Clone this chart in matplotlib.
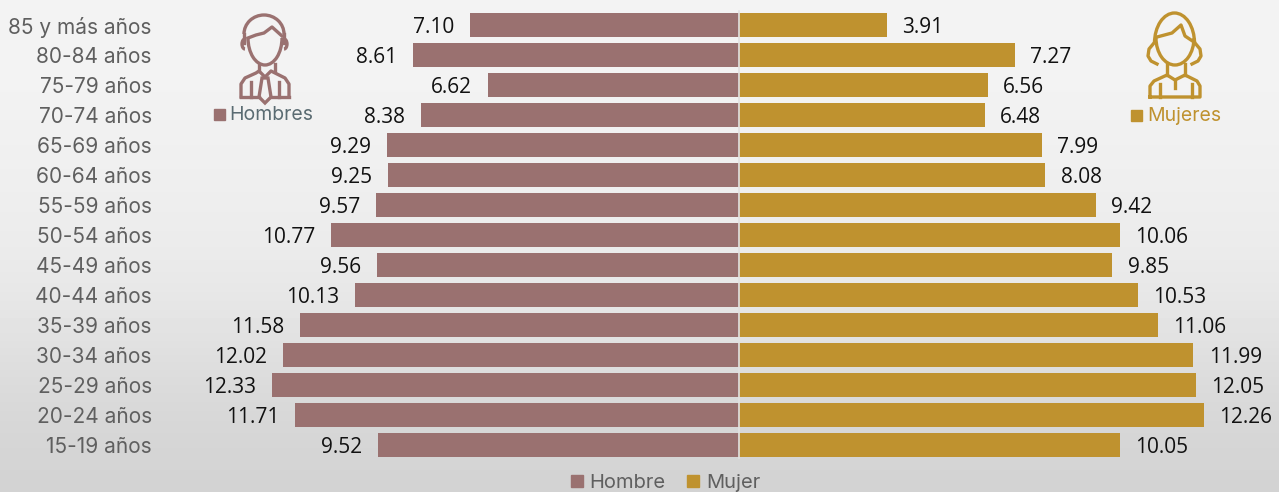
#!/usr/bin/env python3
"""Pirámide de población por grupo de edad, Hombre / Mujer."""
import numpy as np
import matplotlib

matplotlib.use("Agg")
import matplotlib.pyplot as plt  # noqa: E402
from matplotlib.lines import Line2D  # noqa: E402
from matplotlib.patches import Arc, Polygon, Rectangle  # noqa: E402

edades = ["85 y más años", "80-84 años", "75-79 años", "70-74 años", "65-69 años",
          "60-64 años", "55-59 años", "50-54 años", "45-49 años", "40-44 años",
          "35-39 años", "30-34 años", "25-29 años", "20-24 años", "15-19 años"]
hombres = [7.10, 8.61, 6.62, 8.38, 9.29, 9.25, 9.57, 10.77, 9.56, 10.13,
           11.58, 12.02, 12.33, 11.71, 9.52]
mujeres = [3.91, 7.27, 6.56, 6.48, 7.99, 8.08, 9.42, 10.06, 9.85, 10.53,
           11.06, 11.99, 12.05, 12.26, 10.05]

W, H = 1279, 492
C_H = "#9a7170"
C_M = "#bf922f"
C_TICK = "#5f5f5f"
C_HTXT = "#5a6b72"
PX_UNIT = 37.9   # px por unidad en el eje x
X0 = 739         # px del eje central
LEFT = 158       # px donde empieza el área del gráfico

plt.rcParams["font.family"] = ["Inter", "DejaVu Sans"]

fig = plt.figure(figsize=(W / 100, H / 100), dpi=100)

# fondo gris: claro arriba, más oscuro abajo
bg = fig.add_axes([0, 0, 1, 1], zorder=0)
niveles = np.array([0.955, 0.95, 0.94, 0.93, 0.915, 0.885, 0.85, 0.83]).reshape(-1, 1)
bg.imshow(niveles, cmap="gray", vmin=0, vmax=1, aspect="auto", interpolation="bicubic")
bg.axis("off")

# y: filas de 30 px, primera centrada en y=25 px
ax = fig.add_axes([LEFT / W, 0, 1 - LEFT / W, 1], zorder=1)
ax.patch.set_alpha(0)
pos = np.arange(len(edades))
ax.set_xlim((LEFT - X0) / PX_UNIT, (W - X0) / PX_UNIT)
ax.set_ylim((H - 25) / 30, -25 / 30)

ax.barh(pos, -np.array(hombres), height=0.81, color=C_H)
ax.barh(pos, mujeres, height=0.81, color=C_M)
ax.axvline(0, ymin=(H - 458) / H, ymax=(H - 11) / H, color="#e2e2e2", lw=1.2, zorder=3)

for y, v in zip(pos, hombres):
    ax.annotate(f"{v:.2f}", (-v, y), xytext=(-11.5, -1.5), textcoords="offset points",
                ha="right", va="center", fontsize=15, color="#111111", family="Open Sans")
for y, v in zip(pos, mujeres):
    ax.annotate(f"{v:.2f}", (v, y), xytext=(11, -1.5), textcoords="offset points",
                ha="left", va="center", fontsize=15, color="#111111", family="Open Sans")

ax.set_yticks(pos, edades)
ax.tick_params(axis="y", length=0, pad=4.5, labelsize=15, labelcolor=C_TICK)
ax.set_xticks([])
for s in ax.spines.values():
    s.set_visible(False)

handles = [Line2D([], [], ls="", marker="s", ms=9, color=C_H, label="Hombre"),
           Line2D([], [], ls="", marker="s", ms=9, color=C_M, label="Mujer")]
fig.legend(handles=handles, loc="center", bbox_to_anchor=(665 / W, (H - 483) / H), ncol=2,
           frameon=False, fontsize=14.5, labelcolor=C_TICK, handlelength=0.7,
           handletextpad=0.3, columnspacing=1.0, borderpad=0)

# capa en píxeles para los iconos y sus rótulos
ic = fig.add_axes([0, 0, 1, 1], zorder=2)
ic.set_xlim(0, W)
ic.set_ylim(H, 0)
ic.axis("off")


def icono_hombre(a, c):
    lw = 2.4
    # pelo y cara
    a.add_patch(Arc((264, 34), 40, 38, theta1=180, theta2=360, ec=c, lw=lw))
    a.plot([244, 244], [34, 43], color=c, lw=lw)
    a.plot([284, 284], [34, 43], color=c, lw=lw)
    a.add_patch(Arc((265, 38), 34, 54, theta1=0, theta2=180, ec=c, lw=lw))
    a.plot([248, 256, 264, 272, 282], [38, 35, 33, 27, 36], color=c, lw=lw)
    a.add_patch(Arc((245, 44), 6, 10, theta1=90, theta2=270, ec=c, lw=lw))
    a.add_patch(Arc((284, 44), 6, 10, theta1=-90, theta2=90, ec=c, lw=lw))
    # cuello, cuerpo y corbata
    a.plot([259, 259], [64, 71], color=c, lw=lw)
    a.plot([275, 275], [64, 71], color=c, lw=lw)
    a.plot([241, 241, 245, 256, 259, 265, 271, 275, 285, 289, 289],
           [97, 84, 78, 73, 71, 77, 71, 73, 78, 84, 97], color=c, lw=lw)
    a.plot([241, 259], [97, 97], color=c, lw=lw)
    a.plot([271, 289], [97, 97], color=c, lw=lw)
    a.add_patch(Polygon([[262, 78], [268, 78], [271, 97], [265, 103], [259, 97]],
                        fill=False, ec=c, lw=lw))
    a.plot([251, 251], [82, 97], color=c, lw=lw)
    a.plot([279, 279], [82, 97], color=c, lw=lw)


def icono_mujer(a, c):
    lw = 2.4
    # pelo y cara
    a.add_patch(Arc((1174.5, 43), 40, 60, theta1=180, theta2=360, ec=c, lw=lw))
    a.add_patch(Arc((1175, 38), 38, 54, theta1=0, theta2=180, ec=c, lw=lw))
    a.plot([1157, 1172, 1181, 1185, 1194], [37, 33, 25, 36, 42], color=c, lw=lw)
    # rizos a los lados
    a.plot([1154, 1149, 1148, 1151, 1157], [43, 49, 56, 61, 64], color=c, lw=lw)
    a.plot([1195, 1200, 1201, 1198, 1192], [43, 49, 56, 61, 64], color=c, lw=lw)
    # cuello y cuerpo
    a.plot([1167, 1167], [64, 75], color=c, lw=lw)
    a.plot([1185, 1185], [64, 75], color=c, lw=lw)
    a.plot([1150, 1150, 1154, 1167, 1175, 1185, 1197, 1200, 1200, 1150],
           [97, 86, 81, 75, 80, 75, 81, 86, 97, 97], color=c, lw=lw)
    a.plot([1175, 1175], [80, 88], color=c, lw=lw)
    a.plot([1160, 1160], [84, 97], color=c, lw=lw)
    a.plot([1192, 1192], [84, 97], color=c, lw=lw)


icono_hombre(ic, C_H)
icono_mujer(ic, C_M)
ic.add_patch(Rectangle((214, 109), 11, 11, color=C_H))
ic.text(229, 115, "Hombres", fontsize=14, color=C_HTXT, va="center", ha="left")
ic.add_patch(Rectangle((1131, 110), 11, 11, color=C_M))
ic.text(1147, 116, "Mujeres", fontsize=14, color=C_M, va="center", ha="left")

fig.savefig("out.png", dpi=100)
plt.close(fig)
